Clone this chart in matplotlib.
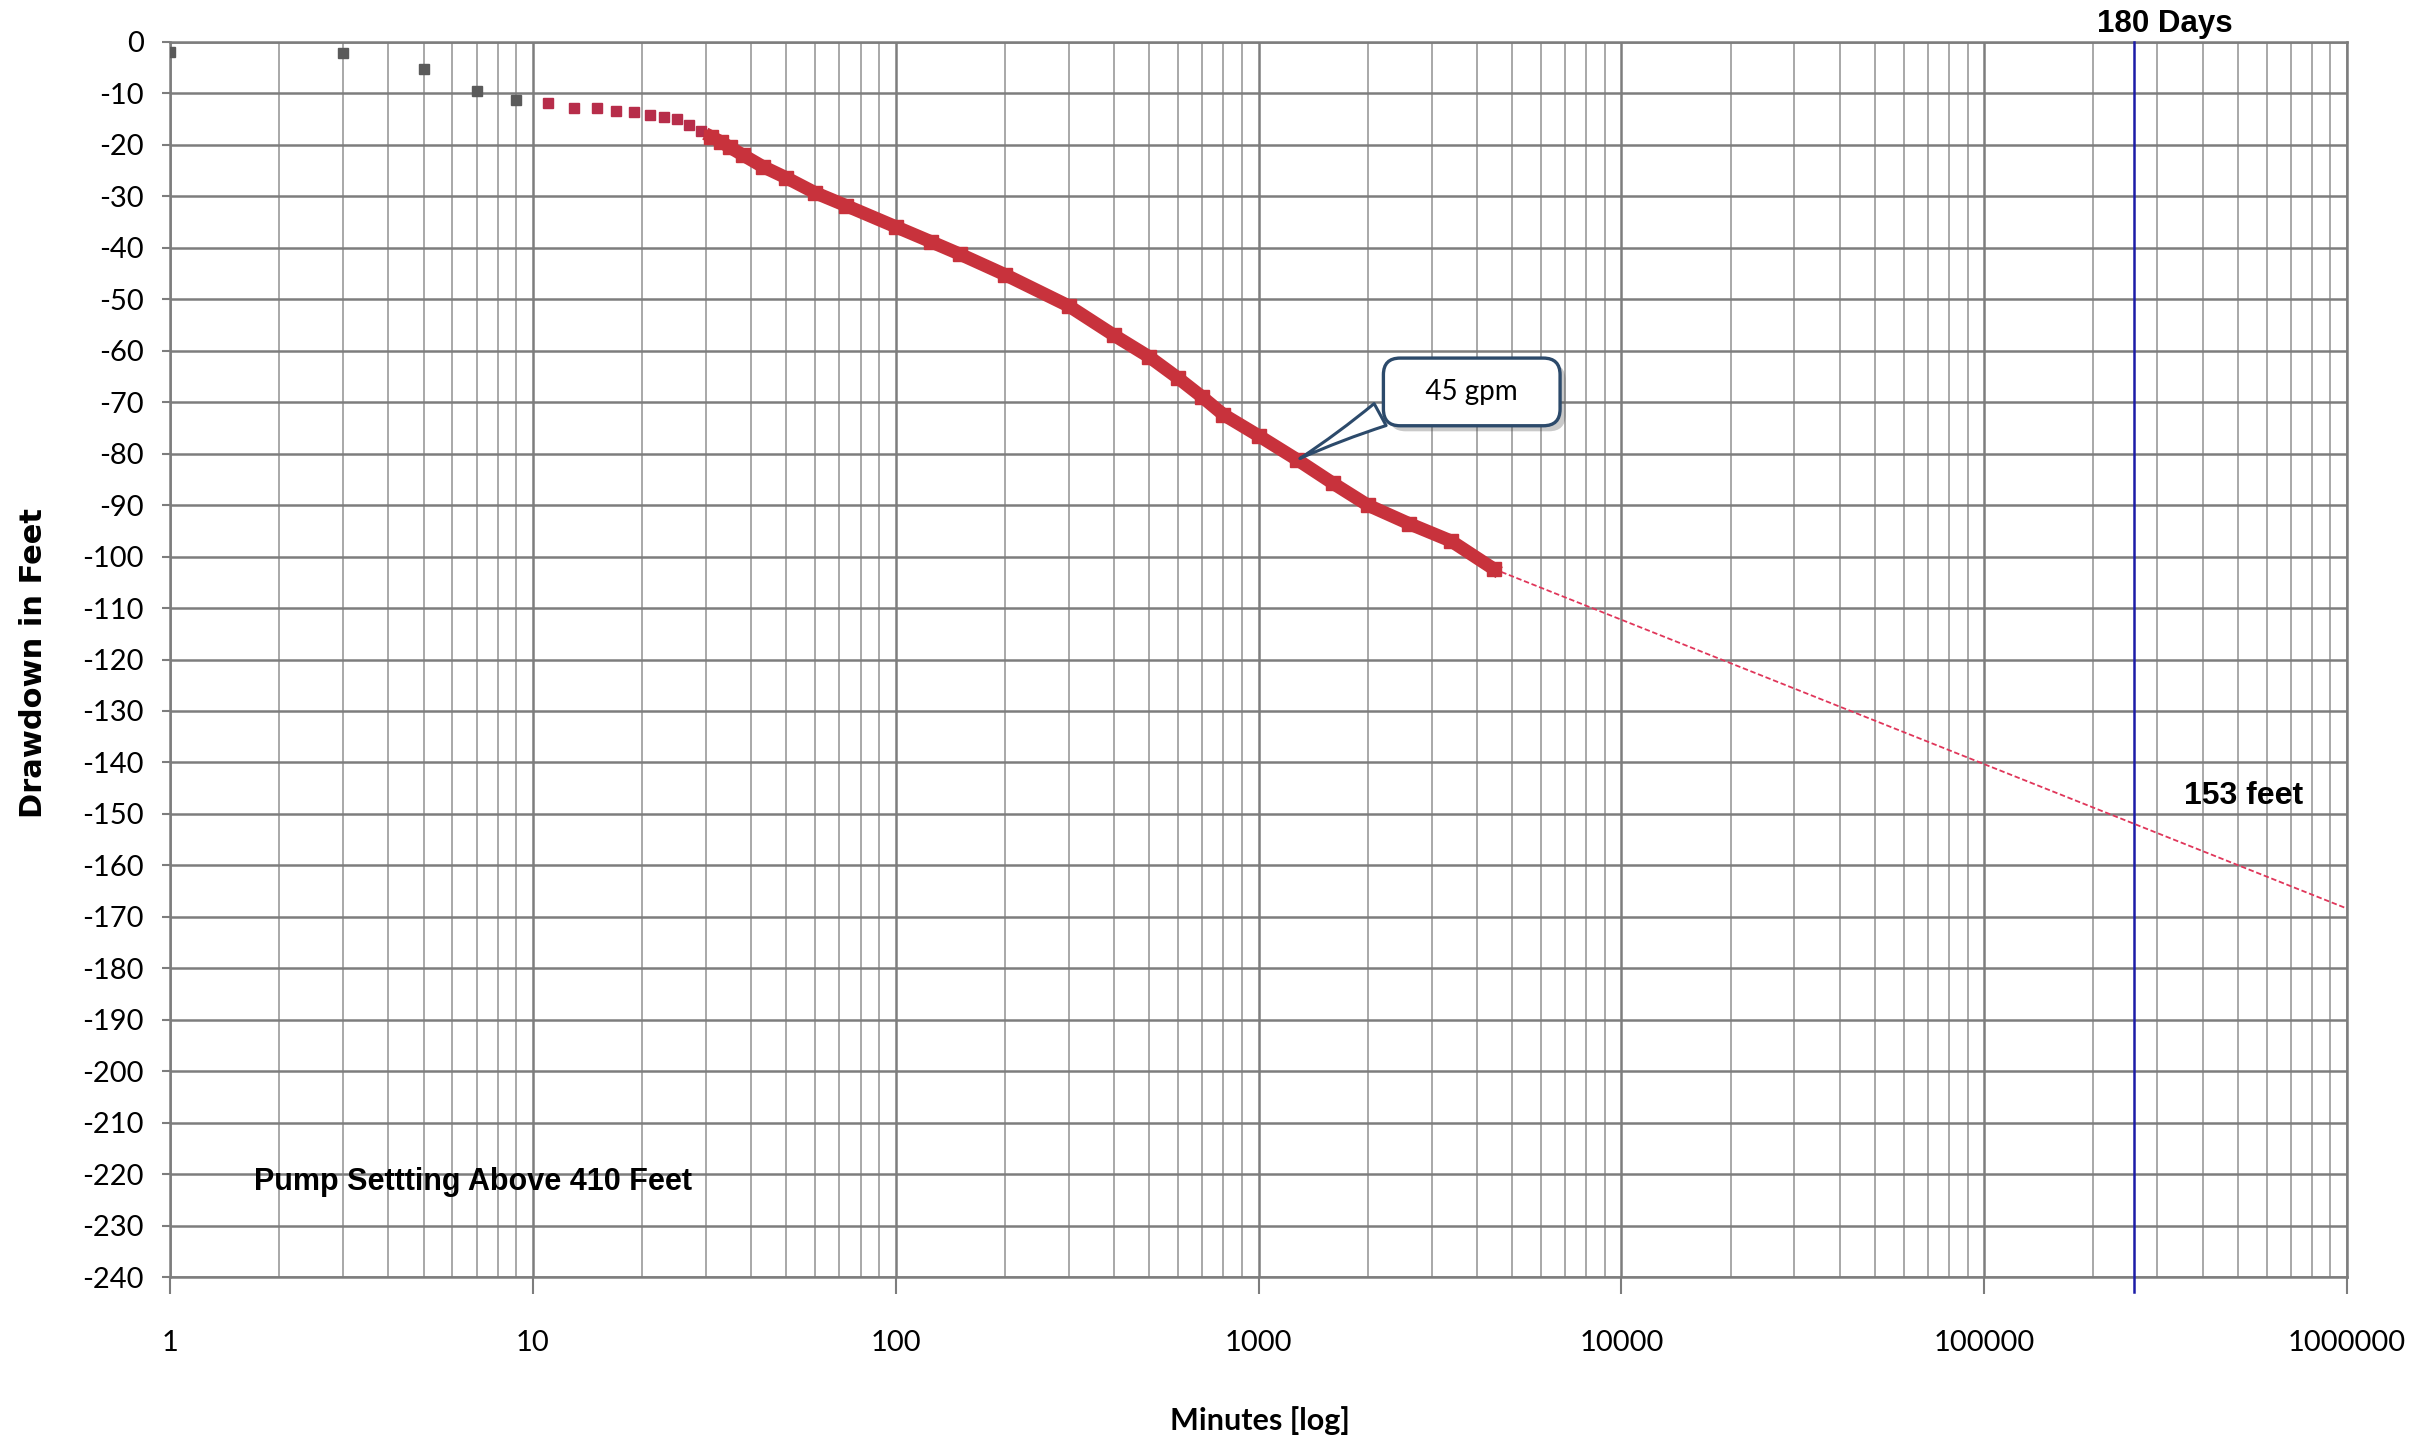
import numpy as np
import matplotlib.pyplot as plt
import matplotlib.patheffects as pe
from matplotlib.ticker import FixedLocator, NullFormatter

# first readings (gray markers)
early_minutes = [1, 3, 5, 7, 9]
early_drawdown = [-2.0, -2.1, -5.2, -9.6, -11.2]

# sparse red readings
sparse_minutes = [11, 13, 15, 17, 19, 21, 23, 25, 27, 29]
sparse_drawdown = [-11.9, -12.8, -12.9, -13.4, -13.7, -14.1, -14.6, -15.0, -16.1, -17.2]

# dense part of the pump test
test_minutes = [31, 33, 35, 38, 43, 50, 60, 73, 100, 125, 150, 200, 300, 400, 500,
                600, 700, 800, 1000, 1280, 1600, 2000, 2600, 3400, 4450]
test_drawdown = [-18.4, -19.4, -20.5, -22.0, -24.2, -26.4, -29.3, -31.8, -35.9, -38.8,
                 -41.2, -45.2, -51.3, -57.0, -61.2, -65.3, -69.0, -72.4, -76.5, -81.2,
                 -85.7, -90.0, -93.6, -97.0, -102.4]

# straight-line projection
proj_minutes = [4450, 1000000]
proj_drawdown = [-102.4, -168.4]

days_180 = 180 * 24 * 60
y_ticks = list(range(0, -250, -10))
x_ticks = [1, 10, 100, 1000, 10000, 100000, 1000000]
x_ticklabels = ['1', '10', '100', '1000', '10000', '100000', '1000000']

narrow = ['Liberation Sans', 'DejaVu Sans']

fig = plt.figure(figsize=(24.16, 14.44), dpi=100)
ax = fig.add_axes([170 / 2416, 1 - 1277 / 1444, 2177 / 2416, 1235 / 1444])

ax.set_xscale('log')
ax.set_xlim(1, 1000000)
ax.set_ylim(-240, 0)

ax.xaxis.set_major_locator(FixedLocator(x_ticks))
ax.set_xticklabels(x_ticklabels)
minor = [m * 10 ** d for d in range(6) for m in range(2, 10)]
ax.xaxis.set_minor_locator(FixedLocator(minor))
ax.xaxis.set_minor_formatter(NullFormatter())
ax.set_yticks(y_ticks)
ax.set_yticklabels([str(v) for v in y_ticks])

ax.grid(True, which='major', axis='both', color='#7d7d7d', lw=1.8)
ax.grid(True, which='minor', axis='x', color='#9a9a9a', lw=1.2)
ax.set_axisbelow(True)
for s in ax.spines.values():
    s.set_color('#7d7d7d')
    s.set_linewidth(1.8)

ax.tick_params(axis='x', which='major', length=12, width=1.5, color='#7d7d7d', pad=26)
ax.tick_params(axis='x', which='minor', length=0)
ax.tick_params(axis='y', length=6, width=1.5, color='#7d7d7d', pad=13)
for lbl in ax.get_xticklabels() + ax.get_yticklabels():
    lbl.set_fontfamily('Lato')
    lbl.set_fontsize(21)

# 180 day line
ax.axvline(days_180, ymin=-0.012, ymax=1, color='#1c1ca8', lw=1.8, clip_on=False, zorder=3)

# projection and data
ax.plot(proj_minutes, proj_drawdown, color='#e0365a', lw=1.3, ls=(0, (3, 1.5)), zorder=4)
ax.plot(early_minutes, early_drawdown, 's', color='#5a5a5a', ms=6.5, zorder=5)
ax.plot(sparse_minutes, sparse_drawdown, 's', color='#b72d4a', ms=6.5, zorder=5)
ax.plot(test_minutes, test_drawdown, 's-', color='#c8323c', ms=10, lw=9.5, zorder=5)

# labels
ax.text(315000, 0.6, '180 Days', ha='center', va='bottom', fontsize=22.5, fontweight='bold',
        family=narrow, clip_on=False)
ax.text(520000, -146.5, '153 feet', ha='center', va='center', fontsize=23, fontweight='bold',
        family=narrow)
ax.text(1.7, -221.5, 'Pump Settting Above 410 Feet', ha='left', va='center', fontsize=22,
        fontweight='bold', family=narrow)

ann = ax.annotate('   45 gpm   ', xy=(1280, -81.2), xytext=(3870, -68), ha='center', va='center',
                  fontsize=20, family='Lato', zorder=6,
                  bbox=dict(boxstyle='round,pad=0.75,rounding_size=0.6', fc='white', ec='#2c4a6b', lw=2.4),
                  arrowprops=dict(arrowstyle='wedge,tail_width=0.9,shrink_factor=0.4', fc='white',
                                  ec='#2c4a6b', lw=2.2, relpos=(0.04, 0.25)))
ann.get_bbox_patch().set_path_effects([pe.SimplePatchShadow(offset=(4, -4), alpha=0.3), pe.Normal()])

fig.text(34 / 2416, 1 - 663 / 1444, 'Drawdown in Feet', rotation=90, ha='center', va='center',
         fontsize=22, fontweight='bold', family='DejaVu Sans')
fig.text(1260 / 2416, 1 - 1421 / 1444, 'Minutes [log]', ha='center', va='center',
         fontsize=22, fontweight='bold', family='Lato')

fig.savefig('out.png', dpi=100, facecolor='white')
